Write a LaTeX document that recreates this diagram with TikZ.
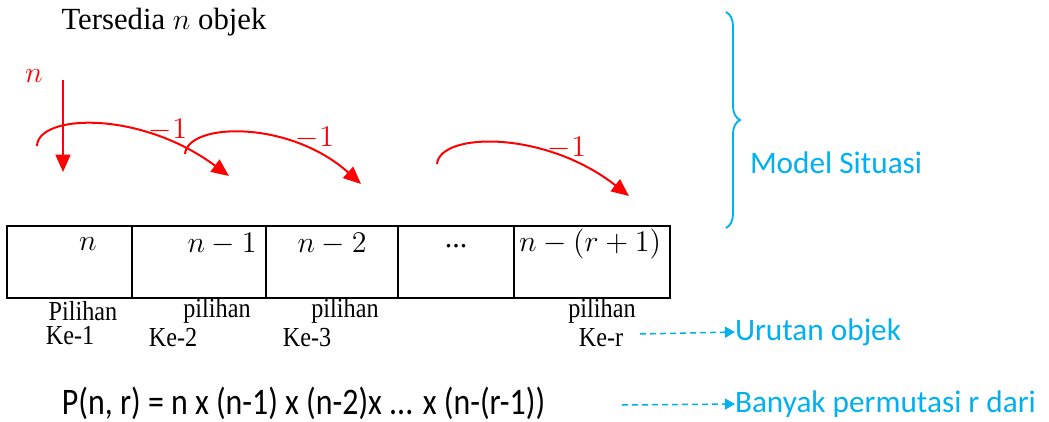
\documentclass[tikz,border=0pt]{standalone}
\usepackage{fontspec}
\setmainfont{Liberation Serif}
\newfontfamily\labelfont{Carlito}
\newfontfamily\formulafont[FakeStretch=0.85]{Carlito}
\newfontfamily\choicefont[FakeStretch=0.88]{Liberation Serif}
\usetikzlibrary{arrows.meta, positioning, calc, decorations.pathreplacing}
\definecolor{skyblue}{HTML}{00B0F0}

\begin{document}
\begin{tikzpicture}[x=0.4pt, y=-0.4pt, node distance=0pt,
  every node/.style={inner sep=0pt, outer sep=0pt, font=\fontsize{12}{14}\selectfont},
  cell/.style={rectangle, draw, line width=0.8pt, minimum height=28.8pt},
  choice/.style={font=\choicefont\fontsize{11}{13}\selectfont},
  stepArrow/.style={red, line width=0.8pt, -{Triangle[length=7pt, width=6pt]}},
  guideArrow/.style={skyblue, line width=0.6pt, dash pattern=on 2.4pt off 1.6pt, -{Triangle[length=4pt, width=4.4pt]}},
  blueText/.style={text=skyblue, font=\labelfont\fontsize{12.5}{14}\selectfont, anchor=west}]
\useasboundingbox (0,0) rectangle (1049,421);

\node (title) at (164,22) {\fontsize{12.3}{14}\selectfont Tersedia $n$ objek};

% the row of choices
\node (cellA) [cell, minimum width=50pt, anchor=north west] at (7,226) {};
\node (cellB) [cell, minimum width=53.6pt, right=of cellA] {};
\node (cellC) [cell, minimum width=52.8pt, right=of cellB] {};
\node (cellD) [cell, minimum width=46.4pt, right=of cellC] {};
\node (cellE) [cell, minimum width=62.4pt, right=of cellD] {};

\node (valA) at (88,244) {$n$};
\node (valB) at (222,244) {$n-1$};
\node (valC) at (332,244) {$n-2$};
\node (valD) at (456,246) {...};
\node (valE) at (590,244) {$n-(r+1)$};

\node (pickA) [choice] at (83,311) {Pilihan};
\node (orderA) [choice] at (70,336) {Ke-1};
\node (pickB) [choice] at (217,311) {pilihan};
\node (orderB) [choice] at (173,338) {Ke-2};
\node (pickC) [choice] at (345,311) {pilihan};
\node (orderC) [choice] at (307,338) {Ke-3};
\node (pickE) [choice] at (602,311) {pilihan};
\node (orderE) [choice] at (601,338) {Ke-r};

% red arrows
\node (startN) [text=red] at (34,76) {$n$};
\coordinate (dropTop) at (63,80);
\coordinate (dropEnd) at (63,172);
\draw[stepArrow] (dropTop) -- (dropEnd);

\coordinate (arcAstart) at (37,146);
\coordinate (arcAend) at (229,176);
\coordinate (arcBstart) at (185,154);
\coordinate (arcBend) at (361,184);
\coordinate (arcCstart) at (437,164);
\coordinate (arcCend) at (629,196);
\draw[stepArrow] (arcAstart) .. controls (38,114) and (140,110) .. (arcAend);
\draw[stepArrow] (arcBstart) .. controls (188,122) and (290,120) .. (arcBend);
\draw[stepArrow] (arcCstart) .. controls (440,132) and (545,130) .. (arcCend);
\node (minusA) [text=red] at (168,130) {$-1$};
\node (minusB) [text=red] at (315,138) {$-1$};
\node (minusC) [text=red] at (567,148) {$-1$};

% brace and labels
\coordinate (braceTop) at (726,12);
\coordinate (braceEnd) at (726,228);
\draw[skyblue, line width=0.75pt, decorate, decoration={brace, amplitude=5.6pt}] (braceTop) -- (braceEnd);
\node (model) [blueText] at (750,163) {Model Situasi};

\node (urutan) [blueText] at (735,332) {Urutan objek};
\coordinate (urutanFrom) at (640,334);
\draw[guideArrow] (urutanFrom) -- (urutan.west);

\node (formula) [anchor=west, font=\formulafont\fontsize{15}{17}\selectfont] at (62,403) {P(n, r) = n x (n-1) x (n-2)x ... x (n-(r-1))};
\node (banyak) [blueText] at (735,404) {Banyak permutasi r dari};
\coordinate (banyakFrom) at (622,405);
\draw[guideArrow] (banyakFrom) -- (banyak.west);
\end{tikzpicture}
\end{document}
